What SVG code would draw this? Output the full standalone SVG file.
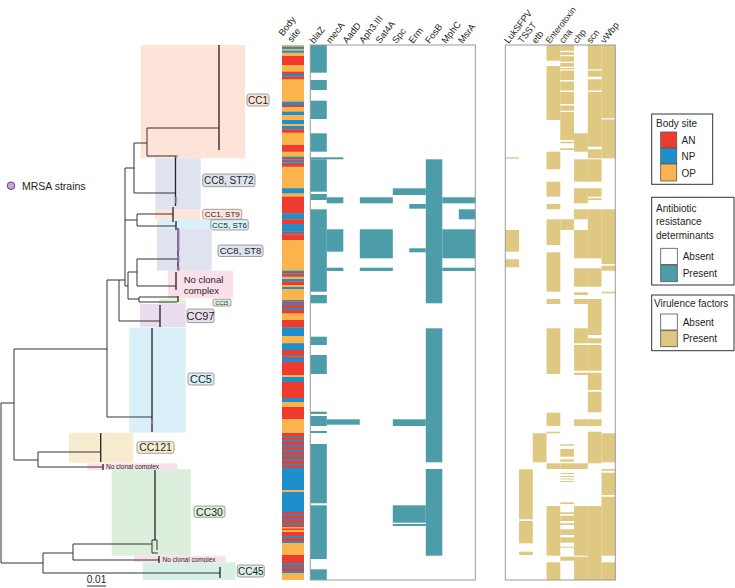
<svg xmlns="http://www.w3.org/2000/svg" width="735" height="588" viewBox="0 0 735 588">
<style>
text{font-family:"Liberation Sans",Arial,sans-serif;fill:#231f20}
.t{stroke:#333;stroke-width:1;fill:none}
.cl{stroke:#222;stroke-width:1.3;fill:none}
.R{fill:#ee3b2e}.B{fill:#1f8fcb}.O{fill:#fbb34d}
.a{fill:#4d9ca9}.v{fill:#dfc882}.w{fill:#fff}
.hbox{fill:none;stroke:#999;stroke-width:1}
.lb{stroke:#8a8a8a;stroke-width:0.8}
.hd{font-size:9.3px}
.lg{fill:#fff;stroke:#333;stroke-width:1}
.sw{stroke:#555;stroke-width:0.8}
.lt{font-size:10px}
.c1{fill:#fde3d8}.c8{fill:#dfe3ef}.c5{fill:#d9f0f8}.nc{fill:#fbe0ec}.c15{fill:#e2f2da}.c97{fill:#e9dced}.c121{fill:#f7ecd0}.c30{fill:#dcefdc}.c45{fill:#d8efe6}
</style>

<!-- clade shading + labels -->
<g id="clade-CC1"><rect class="c1" x="140.7" y="45" width="104.3" height="113.3"/><rect class="c1 lb" x="247" y="94" width="22" height="12" rx="2"/><text x="258" y="103.5" font-size="10" text-anchor="middle">CC1</text></g>
<g id="clade-CC8-ST72"><rect class="c8" x="155.3" y="158.3" width="45.4" height="51"/><rect class="c8 lb" x="202.7" y="174" width="52.3" height="12.7" rx="2"/><text x="228.8" y="184" font-size="10" text-anchor="middle">CC8, ST72</text></g>
<g id="clade-CC1-ST9"><rect class="c1" x="155" y="209.3" width="45" height="10"/><rect class="c1 lb" x="202.7" y="209.3" width="39" height="10" rx="2"/><text x="222.2" y="217.4" font-size="8" text-anchor="middle">CC1, ST9</text></g>
<g id="clade-CC5-ST6"><rect class="c5" x="157" y="219.3" width="53" height="9"/><rect class="c5 lb" x="210.7" y="219.6" width="37.6" height="10.4" rx="2"/><text x="229.5" y="227.8" font-size="8" text-anchor="middle">CC5, ST6</text></g>
<g id="clade-CC8-ST8"><rect class="c8" x="157" y="228.3" width="54.7" height="42.4"/><rect class="c8 lb" x="218" y="245" width="45" height="11.5" rx="2"/><text x="240.5" y="254.3" font-size="9.5" text-anchor="middle">CC8, ST8</text></g>
<g id="clade-NCC1"><rect class="nc" x="168" y="270.7" width="65" height="27.6"/><text x="183.7" y="283" font-size="9.5">No clonal</text><text x="183.7" y="294" font-size="9.5">complex</text></g>
<g id="clade-CC15"><rect class="c15" x="159" y="298.7" width="26.7" height="5.3"/><rect class="c15 lb" x="213" y="299.3" width="18" height="6.7" rx="1"/><text x="222" y="304.7" font-size="5" text-anchor="middle">CC15</text></g>
<g id="clade-CC97"><rect class="c97" x="140" y="304" width="45.7" height="23.3"/><rect class="c97 lb" x="187" y="309" width="27" height="13.7" rx="2"/><text x="200.5" y="319.8" font-size="11" text-anchor="middle">CC97</text></g>
<g id="clade-CC5"><rect class="c5" x="129.3" y="327.7" width="56.4" height="105"/><rect class="c5 lb" x="188" y="373" width="26" height="12" rx="2"/><text x="201" y="382.8" font-size="11" text-anchor="middle">CC5</text></g>
<g id="clade-CC121"><rect class="c121" x="69" y="432.7" width="64.3" height="30"/><rect class="c121 lb" x="137" y="441.7" width="37" height="11.6" rx="2"/><text x="155.5" y="451.3" font-size="10.5" text-anchor="middle">CC121</text></g>
<g id="clade-NCC2"><rect class="nc" x="87.3" y="463.3" width="90" height="6.7"/><text x="106" y="469" font-size="6.5">No clonal complex</text></g>
<g id="clade-CC30"><rect class="c30" x="111.7" y="469.3" width="79" height="86.4"/><rect class="c30 lb" x="194" y="506" width="31" height="11.3" rx="2"/><text x="209.5" y="515.5" font-size="10.5" text-anchor="middle">CC30</text></g>
<g id="clade-NCC3"><rect class="nc" x="134" y="555.7" width="91.7" height="6.6"/><text x="162.5" y="561.5" font-size="6.5">No clonal complex</text></g>
<g id="clade-CC45"><rect class="c45" x="142.7" y="562.3" width="93" height="17.7"/><rect class="c45 lb" x="237.3" y="565" width="27" height="12" rx="2"/><text x="250.8" y="574.8" font-size="10" text-anchor="middle">CC45</text></g>

<!-- tree connectors -->
<g id="tree">
<path class="t" d="M1,403V563M1,403H14M14,349V460M14,349H107M107,280V417M107,417H152M107,280H125M119,280V321M119,321H160M125,168V286M125,168H134M134,143V193M134,143H147M134,193H175M147,128V156M147,128H219M147,156H176M125,220H137M137,214V226M137,214H173M137,226H176M125,286H128M128,272V299M128,272H137M137,259V286M137,259H178M137,286H176M128,299H139M139,297V302M139,297H178M139,302H177M14,460H38M38,452V467M38,452H101M38,467H103M1,563H43M43,553V573M43,553H73M43,573H220M73,544V560M73,544H152M73,560H159M152,540V553M152,540H157M157,540V550M152,553H158"/>
<path class="cl" d="M219,45V150M175.5,156V206M173,207V222M176,221V230M178,228V270M176,272V290M178,296V302M160,305V327M152,328V432M100.7,433V462M103,464V470M155,470V540M159,556V563M220,567V578"/>
<path d="M176.5,155V158M176,197V204M178.5,229V251M178.5,256V262M178.5,267V271M152,420V425" stroke="#a77bc0" stroke-width="2.5" stroke-dasharray="1.5 0.8" fill="none"/>
<path class="t" d="M87,586H106"/>
<text x="96.5" y="583" font-size="10" text-anchor="middle">0.01</text>
</g>

<g id="mrsa-legend"><circle cx="11" cy="185.7" r="3.8" fill="#d59be0" stroke="#333" stroke-width="0.8"/><text x="22" y="189.5" font-size="10.5">MRSA strains</text></g>

<!-- body site column -->
<g id="body-site">
<rect class="O" x="282" y="45" width="22" height="535"/>
<rect class="B" x="282" y="46.7" width="22" height="2.3"/>
<rect class="B" x="282" y="50.7" width="22" height="2"/>
<rect class="R" x="282" y="56" width="22" height="9"/>
<rect class="R" x="282" y="71.7" width="22" height="2.3"/>
<rect class="B" x="282" y="74" width="22" height="2.7"/>
<rect class="R" x="282" y="76.7" width="22" height="2.6"/>
<rect class="B" x="282" y="101.7" width="22" height="3.3"/>
<rect class="R" x="282" y="105" width="22" height="2"/>
<rect class="B" x="282" y="111.7" width="22" height="3.3"/>
<rect class="B" x="282" y="120" width="22" height="4"/>
<rect class="B" x="282" y="126" width="22" height="3.3"/>
<rect class="R" x="282" y="129.3" width="22" height="3.4"/>
<rect class="R" x="282" y="145" width="22" height="6.7"/>
<rect class="B" x="282" y="156.7" width="22" height="1.3"/>
<rect class="R" x="282" y="158" width="22" height="1.5"/>
<rect class="B" x="282" y="159.5" width="22" height="1.5"/>
<rect class="R" x="282" y="161" width="22" height="1.5"/>
<rect class="B" x="282" y="162.5" width="22" height="1.5"/>
<rect class="R" x="282" y="164" width="22" height="2.7"/>
<rect class="B" x="282" y="188.3" width="22" height="5"/>
<rect class="R" x="282" y="196.7" width="22" height="16.6"/>
<rect class="B" x="282" y="213.3" width="22" height="6"/>
<rect class="R" x="282" y="219.3" width="22" height="4.7"/>
<rect class="B" x="282" y="224" width="22" height="7.7"/>
<rect class="R" x="282" y="231.7" width="22" height="1.3"/>
<rect class="B" x="282" y="233" width="22" height="1.5"/>
<rect class="R" x="282" y="234.5" width="22" height="5.5"/>
<rect class="B" x="282" y="270.7" width="22" height="1.3"/>
<rect class="R" x="282" y="272" width="22" height="1.5"/>
<rect class="B" x="282" y="273.5" width="22" height="1.5"/>
<rect class="R" x="282" y="275" width="22" height="1.7"/>
<rect class="B" x="282" y="279" width="22" height="2.7"/>
<rect class="R" x="282" y="281.7" width="22" height="3.3"/>
<rect class="B" x="282" y="287" width="22" height="2"/>
<rect class="B" x="282" y="300" width="22" height="1.5"/>
<rect class="R" x="282" y="301.5" width="22" height="1.5"/>
<rect class="B" x="282" y="303" width="22" height="2"/>
<rect class="R" x="282" y="305" width="22" height="3"/>
<rect class="B" x="282" y="308" width="22" height="2"/>
<rect class="R" x="282" y="310" width="22" height="3.3"/>
<rect class="R" x="282" y="320" width="22" height="7.3"/>
<rect class="B" x="282" y="327.3" width="22" height="8.7"/>
<rect class="B" x="282" y="343.3" width="22" height="6.7"/>
<rect class="R" x="282" y="350" width="22" height="5"/>
<rect class="B" x="282" y="355" width="22" height="1.5"/>
<rect class="R" x="282" y="356.5" width="22" height="1.5"/>
<rect class="B" x="282" y="358" width="22" height="4"/>
<rect class="R" x="282" y="362" width="22" height="13"/>
<rect class="B" x="282" y="377" width="22" height="5"/>
<rect class="R" x="282" y="382" width="22" height="16"/>
<rect class="B" x="282" y="398" width="22" height="4"/>
<rect class="R" x="282" y="407" width="22" height="12"/>
<rect class="R" x="282" y="433" width="22" height="35"/>
<rect class="B" x="282" y="436" width="22" height="1.5"/>
<rect class="B" x="282" y="440" width="22" height="1.5"/>
<rect class="B" x="282" y="445" width="22" height="2"/>
<rect class="B" x="282" y="450" width="22" height="2"/>
<rect class="B" x="282" y="455" width="22" height="1.5"/>
<rect class="B" x="282" y="459" width="22" height="2"/>
<rect class="B" x="282" y="464" width="22" height="1.5"/>
<rect class="B" x="282" y="468" width="22" height="22"/>
<rect class="B" x="282" y="492" width="22" height="20"/>
<rect class="R" x="282" y="512" width="22" height="15"/>
<rect class="B" x="282" y="514" width="22" height="1.5"/>
<rect class="B" x="282" y="518" width="22" height="1.5"/>
<rect class="B" x="282" y="523" width="22" height="2"/>
<rect class="R" x="282" y="528.5" width="22" height="1.5"/>
<rect class="R" x="282" y="532" width="22" height="11"/>
<rect class="B" x="282" y="536" width="22" height="2"/>
<rect class="B" x="282" y="541" width="22" height="2"/>
<rect class="R" x="282" y="555" width="22" height="18"/>
<rect class="B" x="282" y="563" width="22" height="2"/>
<rect class="B" x="282" y="567" width="22" height="1.5"/>
<rect class="B" x="282" y="571" width="22" height="2"/>
</g>

<!-- headers -->
<g id="headers" class="hd">
<text transform="translate(283,36.4) rotate(-52)">Body</text>
<text transform="translate(292,42.7) rotate(-52)">site</text>
<text transform="translate(314,44) rotate(-52)">blaZ</text>
<text transform="translate(330.5,44) rotate(-52)">mecA</text>
<text transform="translate(347,44) rotate(-52)">AadD</text>
<text transform="translate(363.5,44) rotate(-52)">Aph3.III</text>
<text transform="translate(380,44) rotate(-52)">Sat4A</text>
<text transform="translate(396.5,44) rotate(-52)">Spc</text>
<text transform="translate(413,44) rotate(-52)">Erm</text>
<text transform="translate(429.5,44) rotate(-52)">FosB</text>
<text transform="translate(446,44) rotate(-52)">MphC</text>
<text transform="translate(462.5,44) rotate(-52)">MsrA</text>
<text transform="translate(508.5,44) rotate(-52)">LukSFPV</text>
<text transform="translate(522.3,44) rotate(-52)">TSST</text>
<text transform="translate(536,44) rotate(-52)">etb</text>
<text transform="translate(549.8,44) rotate(-52)" font-size="8.6">Enterotoxin</text>
<text transform="translate(563.5,44) rotate(-52)">cna</text>
<text transform="translate(577.3,44) rotate(-52)">chp</text>
<text transform="translate(591,44) rotate(-52)">scn</text>
<text transform="translate(604.8,44) rotate(-52)">vWbp</text>
</g>

<!-- antibiotic resistance heatmap -->
<g id="ar-heatmap" class="a">
<rect x="310.3" y="45" width="16.5" height="27.7"/>
<rect x="310.3" y="80" width="16.5" height="10"/>
<rect x="310.3" y="100.7" width="16.5" height="18.3"/>
<rect x="310.3" y="133.3" width="16.5" height="18.4"/>
<rect x="310.3" y="157.3" width="33" height="2"/>
<rect x="310.3" y="159.3" width="16.5" height="32.4"/>
<rect x="310.3" y="194" width="16.5" height="6"/>
<rect x="310.3" y="209.3" width="16.5" height="82.4"/>
<rect x="310.3" y="295" width="16.5" height="8.3"/>
<rect x="310.3" y="336.7" width="16.5" height="8.3"/>
<rect x="310.3" y="355" width="16.5" height="19"/>
<rect x="310.3" y="411.7" width="16.5" height="2.3"/>
<rect x="310.3" y="416" width="16.5" height="10"/>
<rect x="310.3" y="431" width="16.5" height="2"/>
<rect x="310.3" y="444" width="16.5" height="59.3"/>
<rect x="310.3" y="505.3" width="16.5" height="53.7"/>
<rect x="310.3" y="569.3" width="16.5" height="10.7"/>
<rect x="326.8" y="197.3" width="16.5" height="6"/>
<rect x="326.8" y="229.3" width="16.5" height="22.4"/>
<rect x="326.8" y="267.7" width="16.5" height="3.3"/>
<rect x="326.8" y="419.3" width="33" height="5.4"/>
<rect x="359.8" y="197.3" width="33" height="6"/>
<rect x="359.8" y="229.3" width="33" height="29"/>
<rect x="359.8" y="267.7" width="33" height="3.3"/>
<rect x="392.8" y="188.3" width="33" height="6.7"/>
<rect x="392.8" y="419.3" width="33" height="6.7"/>
<rect x="392.8" y="505.3" width="33" height="17.4"/>
<rect x="392.8" y="524" width="33" height="2"/>
<rect x="409.3" y="204" width="16.5" height="4.7"/>
<rect x="409.3" y="248.3" width="16.5" height="4"/>
<rect x="425.8" y="159.3" width="16.5" height="144"/>
<rect x="425.8" y="328.3" width="16.5" height="134"/>
<rect x="425.8" y="469" width="16.5" height="86.7"/>
<rect x="442.3" y="197.3" width="33" height="6"/>
<rect x="442.3" y="229.3" width="33" height="29"/>
<rect x="442.3" y="267.7" width="33" height="3.3"/>
<rect x="458.8" y="209.3" width="16.5" height="10"/>
</g>
<rect class="hbox" x="310.3" y="45" width="165" height="535"/>

<!-- virulence heatmap -->
<g id="vir-heatmap" class="v">
<rect x="505.3" y="157.3" width="13.75" height="1.4"/>
<rect x="505.3" y="230" width="13.75" height="21.7"/>
<rect x="505.3" y="259.3" width="13.75" height="8"/>
<rect x="519.05" y="469.3" width="13.75" height="50"/>
<rect x="519.05" y="521" width="13.75" height="22.3"/>
<rect x="519.05" y="551.7" width="13.75" height="3.3"/>
<rect x="532.8" y="433.3" width="13.75" height="29"/>
<rect x="546.55" y="45" width="13.75" height="15.7"/>
<rect x="546.55" y="66" width="13.75" height="54"/>
<rect x="546.55" y="151.7" width="13.75" height="17.6"/>
<rect x="546.55" y="181.7" width="13.75" height="15"/>
<rect x="546.55" y="204" width="13.75" height="5.3"/>
<rect x="546.55" y="219.3" width="13.75" height="25.7"/>
<rect x="546.55" y="252.3" width="13.75" height="39.4"/>
<rect x="546.55" y="299" width="13.75" height="5"/>
<rect x="546.55" y="328.3" width="13.75" height="45.7"/>
<rect x="546.55" y="412.7" width="13.75" height="13.3"/>
<rect x="546.55" y="431.7" width="13.75" height="1.6"/>
<rect x="546.55" y="463.3" width="13.75" height="5.7"/>
<rect x="546.55" y="506" width="13.75" height="49.7"/>
<rect x="546.55" y="562.3" width="13.75" height="17.7"/>
<rect x="560.3" y="45" width="13.75" height="95"/>
<rect x="560.3" y="141.7" width="13.75" height="1.6"/>
<rect x="560.3" y="148.3" width="13.75" height="1.7"/>
<rect x="560.3" y="219.3" width="13.75" height="10.7"/>
<rect x="560.3" y="444.3" width="13.75" height="1.4"/>
<rect x="560.3" y="449" width="13.75" height="7.7"/>
<rect x="560.3" y="459.3" width="13.75" height="2.4"/>
<rect x="560.3" y="463.3" width="13.75" height="5.7"/>
<rect x="560.3" y="473" width="13.75" height="1"/>
<rect x="560.3" y="476" width="13.75" height="1"/>
<rect x="560.3" y="478.5" width="13.75" height="1"/>
<rect x="560.3" y="481" width="13.75" height="1"/>
<rect x="560.3" y="502.3" width="13.75" height="1.7"/>
<rect x="560.3" y="512.3" width="13.75" height="1.7"/>
<rect x="560.3" y="515.7" width="13.75" height="5.3"/>
<rect x="560.3" y="523.3" width="13.75" height="1.7"/>
<rect x="560.3" y="529.3" width="13.75" height="5.7"/>
<rect x="560.3" y="537.3" width="13.75" height="5.4"/>
<rect x="560.3" y="546.7" width="13.75" height="1"/>
<rect x="560.3" y="556.7" width="13.75" height="4"/>
<rect x="574.05" y="133.3" width="13.75" height="18.4"/>
<rect x="574.05" y="159.3" width="13.75" height="22.4"/>
<rect x="574.05" y="188.3" width="13.75" height="15"/>
<rect x="574.05" y="209.3" width="13.75" height="10"/>
<rect x="574.05" y="230" width="13.75" height="28.3"/>
<rect x="574.05" y="268.3" width="13.75" height="18.4"/>
<rect x="574.05" y="292.3" width="13.75" height="2.7"/>
<rect x="574.05" y="299" width="13.75" height="5"/>
<rect x="574.05" y="328.3" width="13.75" height="15"/>
<rect x="574.05" y="345" width="13.75" height="25.7"/>
<rect x="574.05" y="372.7" width="13.75" height="2.3"/>
<rect x="574.05" y="419.3" width="13.75" height="6.7"/>
<rect x="574.05" y="463.3" width="13.75" height="5.7"/>
<rect x="574.05" y="506" width="13.75" height="49.7"/>
<rect x="574.05" y="556.7" width="13.75" height="23.3"/>
<rect x="587.8" y="45" width="13.75" height="113.3"/>
<rect x="587.8" y="159.3" width="13.75" height="22.4"/>
<rect x="587.8" y="188.3" width="13.75" height="8.4"/>
<rect x="587.8" y="198.3" width="13.75" height="1.7"/>
<rect x="587.8" y="209.3" width="13.75" height="49"/>
<rect x="587.8" y="268.3" width="13.75" height="18.4"/>
<rect x="587.8" y="299" width="13.75" height="36"/>
<rect x="587.8" y="338.3" width="13.75" height="5"/>
<rect x="587.8" y="345" width="13.75" height="25.7"/>
<rect x="587.8" y="372.7" width="13.75" height="17.3"/>
<rect x="587.8" y="391.7" width="13.75" height="20.6"/>
<rect x="587.8" y="419.3" width="13.75" height="6.7"/>
<rect x="587.8" y="431.7" width="13.75" height="31.6"/>
<rect x="587.8" y="506" width="13.75" height="74"/>
<rect x="601.55" y="45" width="13.75" height="113.3"/>
<rect x="601.55" y="209.3" width="13.75" height="54.7"/>
<rect x="601.55" y="265.7" width="13.75" height="5"/>
<rect x="601.55" y="291.7" width="13.75" height="1.6"/>
<rect x="601.55" y="433.3" width="13.75" height="29"/>
<rect x="601.55" y="469" width="13.75" height="1.7"/>
<rect x="601.55" y="472.7" width="13.75" height="22.3"/>
<rect x="601.55" y="496.7" width="13.75" height="59"/>
<rect x="601.55" y="562.3" width="13.75" height="17.7"/>
</g>
<g id="vir-gaps" class="w">
<rect x="560.3" y="50.7" width="13.75" height="1.5"/>
<rect x="560.3" y="55" width="13.75" height="1.3"/>
<rect x="560.3" y="61.7" width="13.75" height="1.3"/>
<rect x="560.3" y="66.7" width="13.75" height="1.3"/>
<rect x="560.3" y="69.3" width="13.75" height="1.2"/>
<rect x="560.3" y="80" width="13.75" height="1.5"/>
<rect x="560.3" y="90.5" width="13.75" height="1.5"/>
<rect x="560.3" y="104" width="13.75" height="1.5"/>
<rect x="560.3" y="110.7" width="13.75" height="1.3"/>
<rect x="587.8" y="69.3" width="13.75" height="1.2"/>
<rect x="587.8" y="76.7" width="13.75" height="2.6"/>
<rect x="587.8" y="90.5" width="13.75" height="1.5"/>
<rect x="587.8" y="146.7" width="13.75" height="2.6"/>
<rect x="601.55" y="118.3" width="13.75" height="1.2"/>
</g>
<rect class="hbox" x="505.3" y="45" width="110" height="535"/>

<!-- legends -->
<g id="legend-body">
<rect class="lg" x="651.7" y="114" width="61" height="70.3"/>
<text class="lt" x="656" y="126.5">Body site</text>
<rect class="R sw" x="660.7" y="132" width="16" height="16"/>
<rect class="B sw" x="660.7" y="148" width="16" height="16"/>
<rect class="O sw" x="660.7" y="164" width="16" height="17"/>
<text class="lt" x="681.5" y="144">AN</text>
<text class="lt" x="681.5" y="160">NP</text>
<text class="lt" x="681.5" y="176.5">OP</text>
</g>
<g id="legend-ar">
<rect class="lg" x="651.7" y="197.3" width="82.3" height="87.7"/>
<text class="lt" x="656" y="211.5">Antibiotic</text>
<text class="lt" x="656" y="225">resistance</text>
<text class="lt" x="656" y="238.5">determinants</text>
<rect class="sw" fill="#fff" x="660.7" y="248.3" width="16.6" height="16.2"/>
<rect class="a sw" x="660.7" y="265" width="16.6" height="16.7"/>
<text class="lt" x="682.7" y="260">Absent</text>
<text class="lt" x="682.7" y="276.5">Present</text>
</g>
<g id="legend-vir">
<rect class="lg" x="651.7" y="295" width="82.3" height="55.7"/>
<text class="lt" x="654" y="306.5">Virulence factors</text>
<rect class="sw" fill="#fff" x="660.7" y="314" width="16.6" height="16"/>
<rect class="v sw" x="660.7" y="330.7" width="16.6" height="16"/>
<text class="lt" x="682.7" y="325.5">Absent</text>
<text class="lt" x="682.7" y="342">Present</text>
</g>
</svg>
